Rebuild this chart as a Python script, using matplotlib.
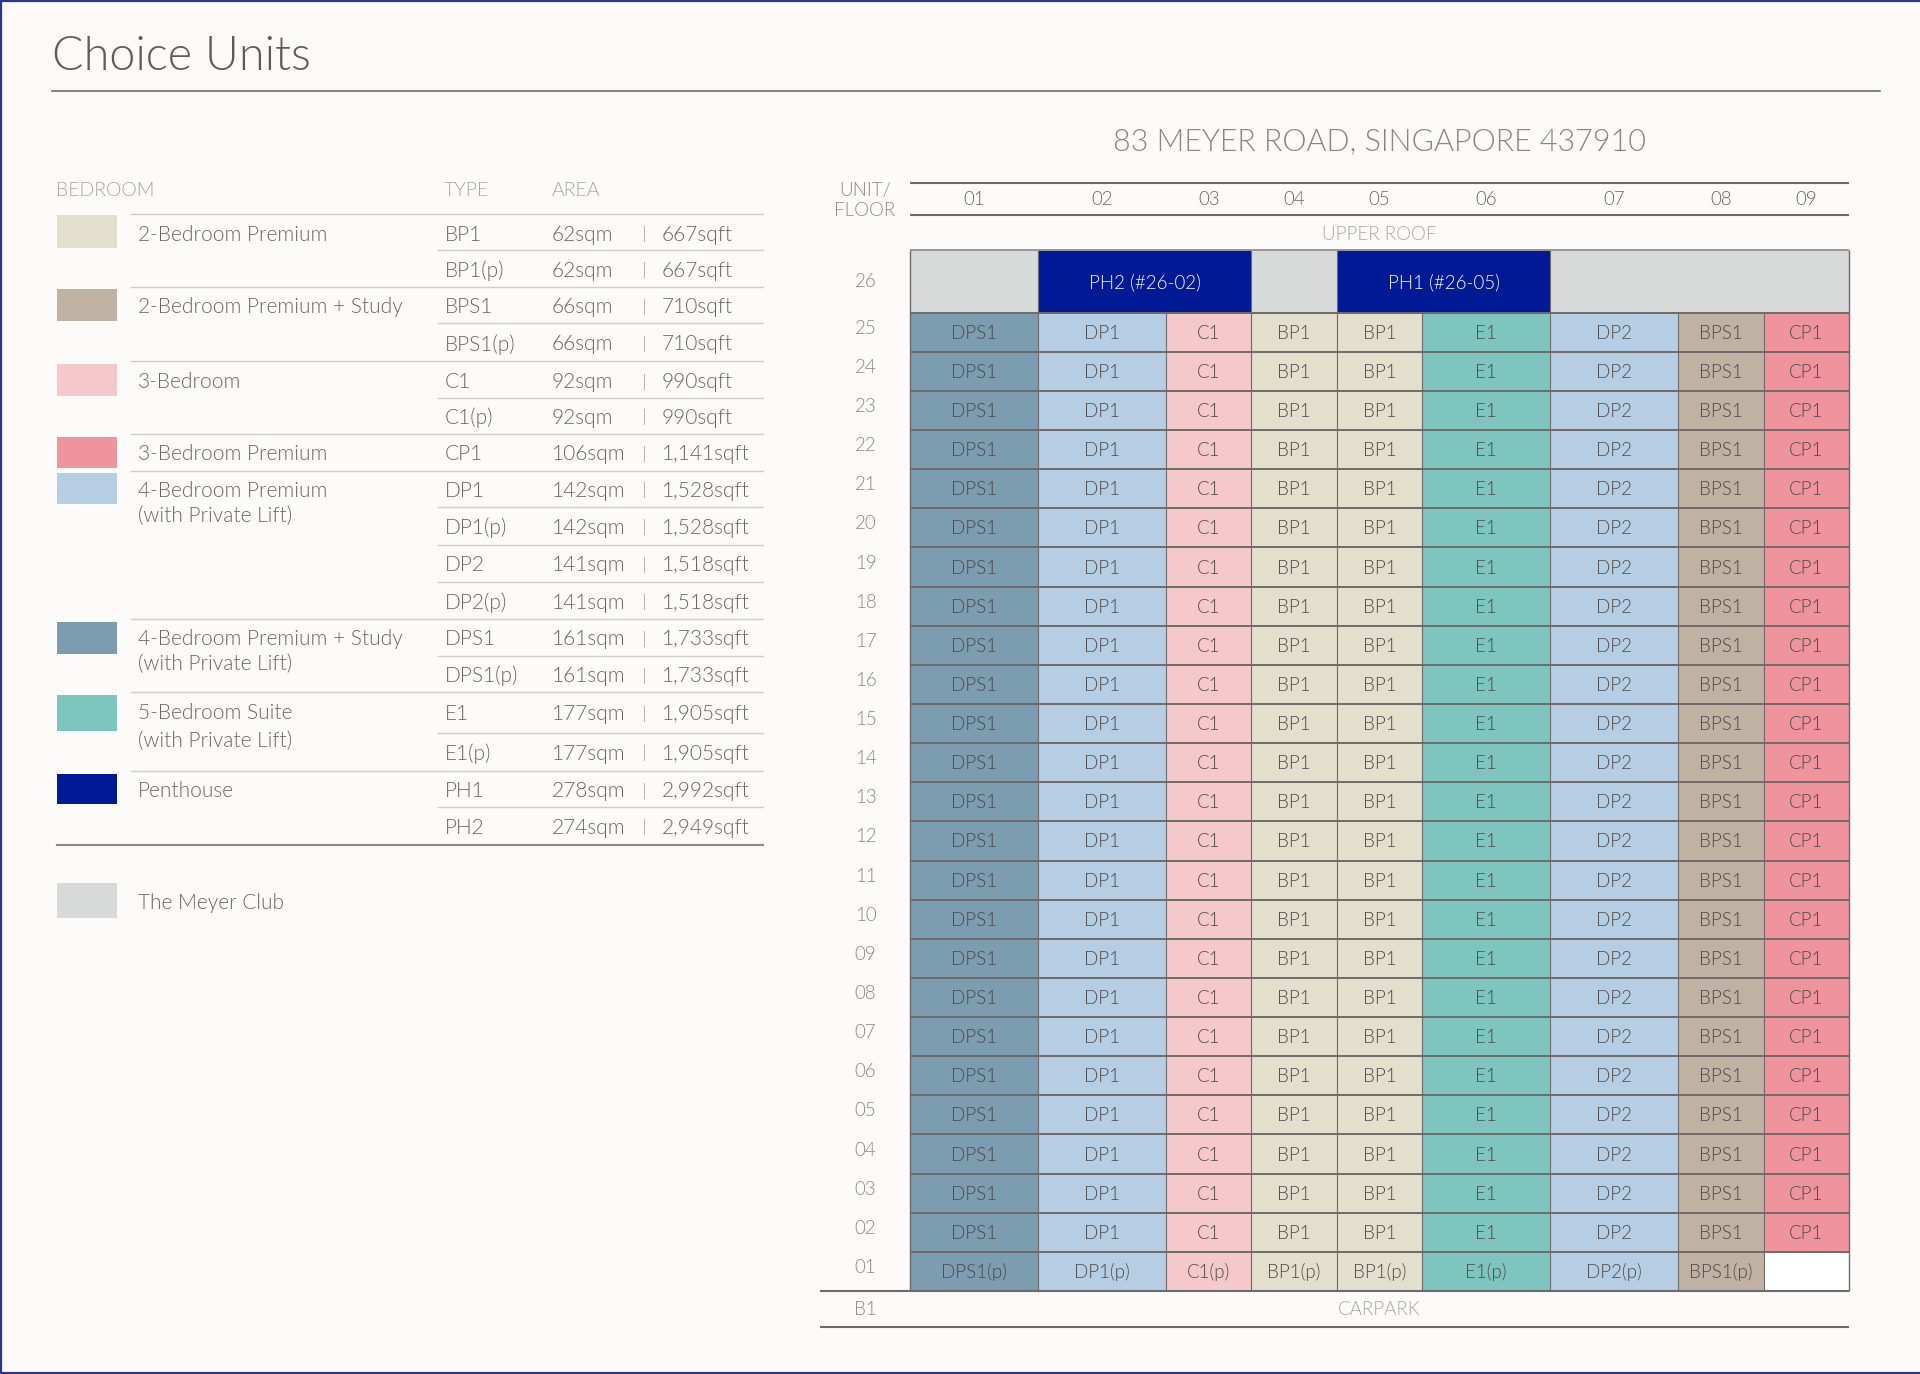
import matplotlib
matplotlib.use("Agg")
import matplotlib.pyplot as plt
from matplotlib import font_manager as fm
from matplotlib.patches import Rectangle

W, H = 1920, 1374
_light = [f.fname for f in fm.fontManager.ttflist
          if f.name.startswith('Lato') and f.fname.rsplit('/', 1)[-1].lower() in ('lato-light.ttf', 'lato-light.otf')]


def FP(size):
    if _light:
        return fm.FontProperties(fname=_light[0], size=size)
    return fm.FontProperties(family='Lato', weight='normal', size=size)


# ---------- data ----------
UNITS = ['01', '02', '03', '04', '05', '06', '07', '08', '09']
UNIT_WIDTHS = [1.5, 1.5, 1, 1, 1, 1.5, 1.5, 1, 1]
UNIT_TYPES = ['DPS1', 'DP1', 'C1', 'BP1', 'BP1', 'E1', 'DP2', 'BPS1', 'CP1']
GROUND_TYPES = ['DPS1(p)', 'DP1(p)', 'C1(p)', 'BP1(p)', 'BP1(p)', 'E1(p)', 'DP2(p)', 'BPS1(p)', '']
FLOORS = ['01', '02', '03', '04', '05', '06', '07', '08', '09', '10', '11', '12', '13',
          '14', '15', '16', '17', '18', '19', '20', '21', '22', '23', '24', '25']
TOP_FLOOR = '26'
TOP_SPANS = [('', 1), ('PH2 (#26-02)', 2), ('', 1), ('PH1 (#26-05)', 2), ('', 3)]

COLORS = {'BP': '#E2DFCD', 'BPS': '#BFB2A3', 'C': '#F5C9CC', 'CP': '#EF949C', 'DP': '#B5CEE4',
          'DPS': '#7C9CB0', 'E': '#7EC4BF', 'PH': '#001A96', 'CLUB': '#D8DADA'}

BEDROOMS = ['2-Bedroom Premium', '2-Bedroom Premium + Study', '3-Bedroom', '3-Bedroom Premium',
            '4-Bedroom Premium\n(with Private Lift)', '4-Bedroom Premium + Study\n(with Private Lift)',
            '5-Bedroom Suite\n(with Private Lift)', 'Penthouse', 'The Meyer Club']
BEDROOM_COLORS = ['BP', 'BPS', 'C', 'CP', 'DP', 'DPS', 'E', 'PH', 'CLUB']
TYPES = ['BP1', 'BP1(p)', 'BPS1', 'BPS1(p)', 'C1', 'C1(p)', 'CP1', 'DP1', 'DP1(p)', 'DP2', 'DP2(p)',
         'DPS1', 'DPS1(p)', 'E1', 'E1(p)', 'PH1', 'PH2']
SQM = [62, 62, 66, 66, 92, 92, 106, 142, 142, 141, 141, 161, 161, 177, 177, 278, 274]
SQFT = ['667', '667', '710', '710', '990', '990', '1,141', '1,528', '1,528', '1,518', '1,518',
        '1,733', '1,733', '1,905', '1,905', '2,992', '2,949']

# ---------- layout (pixels of the page) ----------
BG = '#FCFBF9'
LINE = '#6F6A6A'
TXT = '#6A6565'
CELLTXT = '#4C4848'
GREY = '#A6A5A6'
ROW_Y = [233.7, 269.7, 306, 343.3, 381, 416.7, 453, 489.7, 526.7, 564, 601.7, 638.3, 675, 713.3, 752.7, 790, 826.7]
SW_BOX = [(214.7, 248.3), (289.3, 321), (364, 395.7), (436.7, 467.7), (473, 504.3),
          (622, 653.7), (695, 730.7), (773.7, 804.3), (882.7, 917.7)]
NAME_Y = [(233.7,), (306,), (381,), (453,), (489.7, 514.7), (637.7, 662.7), (712.3, 740), (790,), (902,)]
FULL_RULES = [214.3, 286.7, 361.3, 434.3, 470.7, 619.3, 692, 771]
TYPE_RULES = [250.3, 323.3, 398, 507.3, 544.7, 582.3, 656, 733.3, 807]
DY = 1.0

fig = plt.figure(figsize=(W / 100, H / 100), dpi=100, facecolor=BG)

# page axes in pixels
pg = fig.add_axes([0, 0, 1, 1])
pg.set_xlim(0, W)
pg.set_ylim(H, 0)
pg.axis('off')
for xs, ys in (([1, 1], [0, H]), ([0, W], [1, 1]), ([0, W], [H - 1, H - 1])):
    pg.plot(xs, ys, color='#2A3595', lw=1.6, solid_capstyle='butt')

pg.text(52, 69.5, 'Choice Units', fontproperties=FP(33.7), color='#5F5958', va='baseline', ha='left')
pg.plot([52, 1880], [91.3, 91.3], color=LINE, lw=1.2)

for x, s, sz in ((55.6, 'BEDROOM', 14), (444, 'TYPE', 14), (552, 'AREA', 14)):
    pg.text(x, 189 + DY, s, fontproperties=FP(sz), color=GREY, va='center', ha='left')

for y in FULL_RULES:
    pg.plot([131, 763], [y, y], color='#CDCDCF', lw=1.0)
for y in TYPE_RULES:
    pg.plot([438, 763], [y, y], color='#CDCDCF', lw=1.0)
pg.plot([57, 763], [845, 845], color='#8F8787', lw=1.5)

for name, key, (y0, y1), ys in zip(BEDROOMS, BEDROOM_COLORS, SW_BOX, NAME_Y):
    pg.add_patch(Rectangle((57, y0), 60, y1 - y0, facecolor=COLORS[key], edgecolor='none'))
    for line, y in zip(name.split('\n'), ys):
        pg.text(137.8, y + DY, line, fontproperties=FP(15), color=TXT, va='center', ha='left')

for t, a, f, y in zip(TYPES, SQM, SQFT, ROW_Y):
    pg.text(445, y + DY, t, fontproperties=FP(15), color=TXT, va='center', ha='left')
    pg.text(551.5, y + DY, f'{a}sqm', fontproperties=FP(15), color=TXT, va='center', ha='left')
    pg.plot([644.4, 644.4], [y - 7.5, y + 7.5], color='#B5B1B1', lw=0.7)
    pg.text(661.7, y + DY, f'{f}sqft', fontproperties=FP(15), color=TXT, va='center', ha='left')

# ---------- stacking grid ----------
GL, GR, GTOP, GBOT = 910.0, 1849.0, 183.0, 1326.7
ax = fig.add_axes([GL / W, 1 - GBOT / H, (GR - GL) / W, (GBOT - GTOP) / H])
ax.set_facecolor('none')
for s in ax.spines.values():
    s.set_visible(False)

ROW_PX = 39.13
TOP_H = 1.6
n = len(FLOORS)
ax.set_ylim(-35.7 / ROW_PX, n + TOP_H + 67 / ROW_PX)
ax.set_xlim(0, sum(UNIT_WIDTHS))
DYU = DY / ROW_PX

lefts = [sum(UNIT_WIDTHS[:i]) for i in range(len(UNIT_WIDTHS))]
centers = [l + w / 2 for l, w in zip(lefts, UNIT_WIDTHS)]


def key_of(t):
    return t.split('(')[0].rstrip('0123456789')


for i, floor in enumerate(FLOORS):
    labels = GROUND_TYPES if i == 0 else UNIT_TYPES
    for l, w, c, lab in zip(lefts, UNIT_WIDTHS, centers, labels):
        if lab:
            ax.bar(l, 1, width=w, bottom=i, align='edge', color=COLORS[key_of(lab)], edgecolor='none', zorder=1)
            ax.text(c, i + 0.5 - DYU, lab, ha='center', va='center', fontproperties=FP(13.5), color=CELLTXT, zorder=4)
        else:
            ax.bar(l, 1, width=w, bottom=i, align='edge', color='white', edgecolor='none', zorder=1)

# top floor
pos = 0
span_edges = []
for lab, k in TOP_SPANS:
    w = sum(UNIT_WIDTHS[pos:pos + k])
    l = lefts[pos]
    ax.bar(l, TOP_H, width=w, bottom=n, align='edge',
           color=COLORS['PH'] if lab else COLORS['CLUB'], edgecolor='none', zorder=1)
    if lab:
        ax.text(l + w / 2, n + TOP_H / 2 - DYU, lab, ha='center', va='center', fontproperties=FP(13.5), color='white', zorder=4)
    span_edges.append(l)
    pos += k

# grid lines
total = sum(UNIT_WIDTHS)
for i in range(0, n + 1):
    ax.hlines(i, 0, total, color=LINE, lw=1.4, zorder=3)
for l in lefts[1:]:
    ax.vlines(l, 0, n, color=LINE, lw=0.8, zorder=3)
for l in [0, total]:
    ax.vlines(l, 0, n + TOP_H, color=LINE, lw=1.0, zorder=3, clip_on=False)
for l in span_edges[1:]:
    ax.vlines(l, n, n + TOP_H, color=LINE, lw=0.8, zorder=3)
ax.hlines(n + TOP_H, 0, total, color='#9A9596', lw=1.4, zorder=3)

x0 = -90 / (GR - GL) * total
ylo, yhi = ax.get_ylim()
ax.hlines(0, x0, total, color=LINE, lw=1.5, clip_on=False, zorder=3)
ax.hlines(ylo, x0, total, color=LINE, lw=1.5, clip_on=False, zorder=3)
ax.hlines(yhi, 0, total, color=LINE, lw=1.5, clip_on=False, zorder=3)
ax.hlines(yhi - 31.7 / ROW_PX, 0, total, color=LINE, lw=1.5, zorder=3)

# unit ticks across the top
ax.xaxis.tick_top()
ax.set_xticks(centers)
ax.set_xticklabels(UNITS, ha='center', va='center', color=TXT, fontproperties=FP(13.5))
ax.tick_params(axis='x', length=0, pad=-12)

# floor ticks on the left
yt = [i + 0.5 + 4 / ROW_PX for i in range(n)] + [n + TOP_H / 2] + [-18.7 / ROW_PX]
yl = FLOORS + [TOP_FLOOR] + ['B1']
ax.set_yticks(yt)
ax.set_yticklabels(yl, ha='center', va='center', color='#8A8585', fontproperties=FP(13.5))
ax.tick_params(axis='y', length=0, pad=32)

mid = total / 2
ax.text(mid, n + TOP_H + 16 / ROW_PX, 'UPPER ROOF', ha='center', va='center', fontproperties=FP(13.5), color=GREY)
ax.text(mid, -18.7 / ROW_PX, 'CARPARK', ha='center', va='center', fontproperties=FP(13.5), color=GREY)
ax.text(mid, yhi + 41.3 / ROW_PX, '83 MEYER ROAD, SINGAPORE 437910', ha='center', va='center',
        fontproperties=FP(22), color='#8A8484', clip_on=False)
xlab = -45 / (GR - GL) * total
ax.text(xlab, yhi - 7 / ROW_PX, 'UNIT/', ha='center', va='center', fontproperties=FP(13.5), color='#8A8585', clip_on=False)
ax.text(xlab, yhi - 27 / ROW_PX, 'FLOOR', ha='center', va='center', fontproperties=FP(13.5), color='#8A8585', clip_on=False)

fig.savefig('out.png', dpi=100, facecolor=BG)
